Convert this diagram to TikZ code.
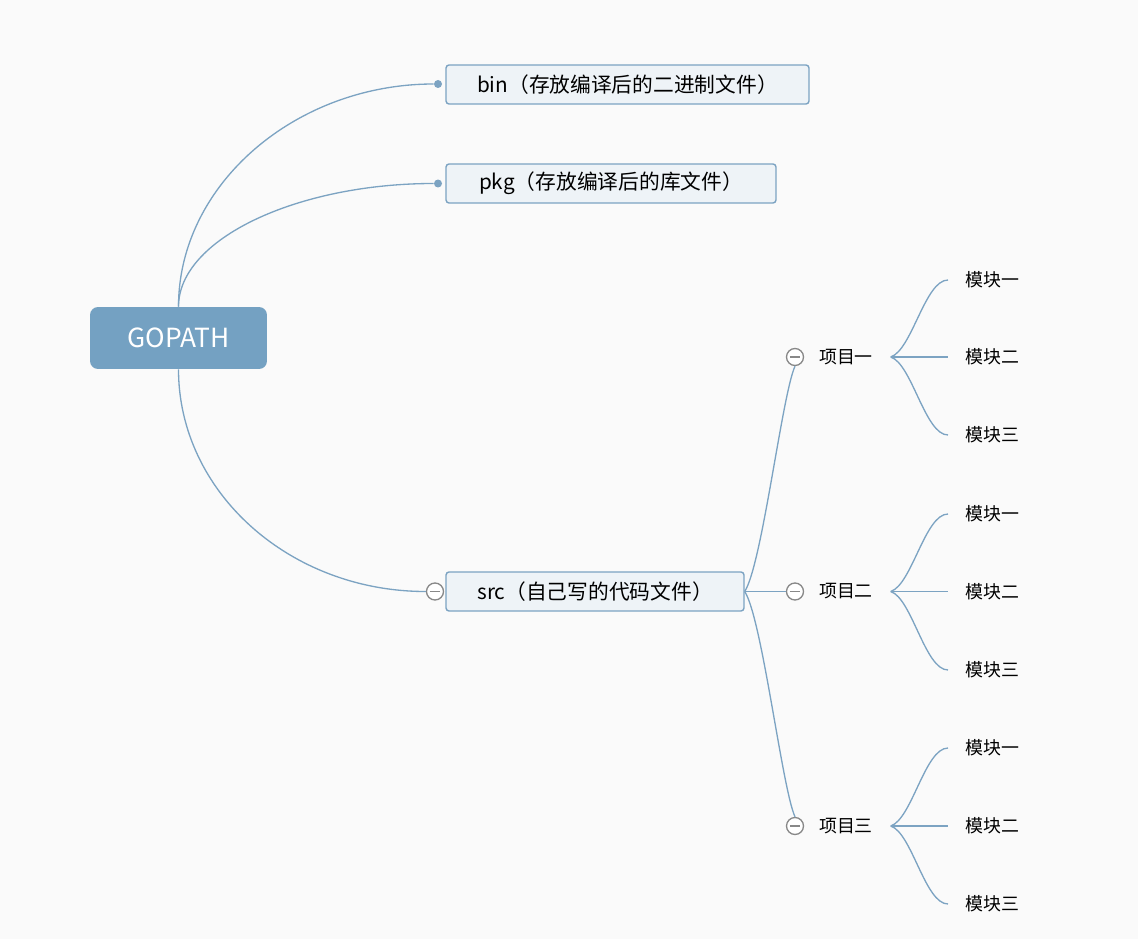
\documentclass[tikz,border=0pt]{standalone}
\usepackage{fontspec}
\newfontfamily\cjk{Noto Sans CJK SC}
\usetikzlibrary{calc}

\definecolor{bgGray}{RGB}{250,250,250}
\definecolor{rootBlue}{RGB}{116,161,194}
\definecolor{boxFill}{RGB}{238,243,247}
\definecolor{lineBlue}{RGB}{124,163,194}
\definecolor{foldGray}{RGB}{136,136,136}

\tikzset{
  root/.style={rectangle, rounded corners=0.16cm, fill=rootBlue, text=white,
    minimum width=3.54cm, minimum height=1.24cm,
    font=\cjk\fontsize{15pt}{18pt}\selectfont},
  topic/.style={rectangle, rounded corners=0.06cm, draw=lineBlue, fill=boxFill,
    line width=0.8pt, minimum height=0.78cm,
    font=\cjk\fontsize{11.8pt}{14pt}\selectfont},
  project/.style={inner xsep=0.35cm, inner ysep=0pt,
    font=\cjk\fontsize{10.2pt}{12pt}\selectfont},
  leaf/.style={anchor=west, inner xsep=0.34cm, inner ysep=0pt,
    font=\cjk\fontsize{10.2pt}{12pt}\selectfont},
  branch/.style={draw=lineBlue, line width=0.75pt},
  knob/.style={circle, fill=lineBlue, inner sep=0pt, minimum size=0.16cm},
  foldmark/.style={circle, draw=foldGray, fill=white, line width=0.75pt,
    minimum size=0.34cm, inner sep=0pt,
    path picture={\draw[foldGray, line width=0.75pt]
      ($(path picture bounding box.west)!0.2!(path picture bounding box.east)$) --
      ($(path picture bounding box.west)!0.8!(path picture bounding box.east)$);}}
}

\begin{document}
\begin{tikzpicture}[x=0.02cm, y=-0.02cm]
  % 背景
  \fill[bgGray] (0,0) rectangle (1138,939);

  % 中心主题
  \node[root] (gopath) at (178.5,338) {GOPATH};

  % 三个子目录
  \node[topic, minimum width=7.26cm] (bin) at (627.5,84.5) {bin（存放编译后的二进制文件）};
  \node[topic, minimum width=6.6cm] (pkg) at (611,183.5) {pkg（存放编译后的库文件）};
  \node[topic, minimum width=5.96cm] (src) at (595,591.5) {src（自己写的代码文件）};

  \node[knob] (binKnob) at (438,84) {};
  \node[knob] (pkgKnob) at (438,183.5) {};
  \node[foldmark] (srcFold) at (435,591.5) {};

  % 中心到子目录的连线
  \draw[branch] (gopath.north) .. controls (178.5,184) and (296,84) .. (binKnob);
  \draw[branch] (gopath.north) .. controls (178.5,239) and (297,183.5) .. (pkgKnob);
  \draw[branch] (gopath.south) .. controls (178.5,492) and (289.5,591.5) .. (srcFold.west);

  % 项目
  \node[foldmark] (p1Fold) at (795,357) {};
  \node[foldmark] (p2Fold) at (795,591.5) {};
  \node[foldmark] (p3Fold) at (795,826) {};
  \node[project] (p1) at (846,357) {项目一};
  \node[project] (p2) at (846,591.5) {项目二};
  \node[project] (p3) at (846,826) {项目三};

  \draw[branch] (src.east) .. controls (762,565) and (782,395) .. (p1Fold.south);
  \draw[branch] (src.east) -- (p2Fold.west);
  \draw[branch] (src.east) .. controls (762,618) and (782,788) .. (p3Fold.north);

  % 项目一的模块
  \node[leaf] (m11) at (948,280) {模块一};
  \node[leaf] (m12) at (948,357) {模块二};
  \node[leaf] (m13) at (948,435) {模块三};
  \draw[branch] (p1.east) .. controls (912,350) and (925,280) .. (m11.west);
  \draw[branch] (p1.east) -- (m12.west);
  \draw[branch] (p1.east) .. controls (912,364) and (925,435) .. (m13.west);

  % 项目二的模块
  \node[leaf] (m21) at (948,514) {模块一};
  \node[leaf] (m22) at (948,591.5) {模块二};
  \node[leaf] (m23) at (948,670) {模块三};
  \draw[branch] (p2.east) .. controls (912,584.5) and (925,514) .. (m21.west);
  \draw[branch] (p2.east) -- (m22.west);
  \draw[branch] (p2.east) .. controls (912,598.5) and (925,670) .. (m23.west);

  % 项目三的模块
  \node[leaf] (m31) at (948,748) {模块一};
  \node[leaf] (m32) at (948,826) {模块二};
  \node[leaf] (m33) at (948,904) {模块三};
  \draw[branch] (p3.east) .. controls (912,819) and (925,748) .. (m31.west);
  \draw[branch] (p3.east) -- (m32.west);
  \draw[branch] (p3.east) .. controls (912,833) and (925,904) .. (m33.west);
\end{tikzpicture}
\end{document}
